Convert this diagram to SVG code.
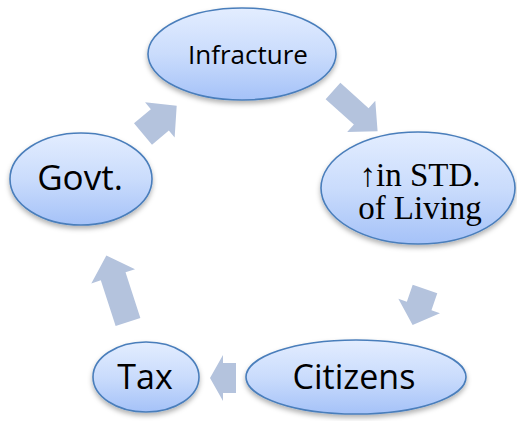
<svg xmlns="http://www.w3.org/2000/svg" width="517" height="421" viewBox="0 0 517 421">
<defs>
<linearGradient id="g" x1="0" y1="0" x2="0" y2="1">
<stop offset="0" stop-color="#E3EDFF"/>
<stop offset="0.5" stop-color="#CADCFC"/>
<stop offset="1" stop-color="#A5C2F8"/>
</linearGradient>
<filter id="sh" x="-20%" y="-20%" width="140%" height="150%">
<feDropShadow dx="0" dy="3" stdDeviation="2.5" flood-color="#000" flood-opacity="0.3"/>
</filter>
</defs>
<style>
.n{fill:url(#g);stroke:#4A7EBB;stroke-width:1.6;filter:url(#sh)}
.s{font-family:"Open Sans","Liberation Sans",sans-serif;fill:#000;text-anchor:middle}
.r{font-family:"Liberation Serif",serif;fill:#000;text-anchor:middle}
.a{fill:#B4C3DD}
</style>
<rect width="517" height="421" fill="#fff"/>
<g id="connectors">
<polygon class="a" points="0,-11 38,-11 38,-21 60,0 38,21 38,11 0,11" transform="translate(333,91) rotate(42)"/>
<polygon class="a" points="0,-13 18,-13 18,-22 38,0 18,22 18,13 0,13" transform="translate(425,289) rotate(109)"/>
<polygon class="a" points="0,-15 13,-15 13,-23 26,0 13,23 13,15 0,15" transform="translate(236,378) rotate(180)"/>
<polygon class="a" points="0,-13 48,-13 48,-23 70,0 48,23 48,13 0,13" transform="translate(128,322) rotate(-108)"/>
<polygon class="a" points="0,-14 22,-14 22,-23 44,0 22,23 22,14 0,14" transform="translate(143,134) rotate(-40)"/>
</g>
<g id="infracture">
<ellipse class="n" cx="242" cy="54" rx="94" ry="46"/>
<text class="s" x="248" y="64" font-size="26">Infracture</text>
</g>
<g id="std">
<ellipse class="n" cx="418" cy="188" rx="97" ry="56"/>
<text class="r" x="420" y="186" font-size="33">↑in STD.</text>
<text class="r" x="420" y="219" font-size="33">of Living</text>
</g>
<g id="citizens">
<ellipse class="n" cx="356" cy="377" rx="110" ry="37"/>
<text class="s" x="354" y="389" font-size="34">Citizens</text>
</g>
<g id="tax">
<ellipse class="n" cx="146" cy="377" rx="53" ry="35"/>
<text class="s" x="145" y="389" font-size="34">Tax</text>
</g>
<g id="govt">
<ellipse class="n" cx="81" cy="179" rx="71" ry="46"/>
<text class="s" x="80" y="190" font-size="35">Govt.</text>
</g>
</svg>
